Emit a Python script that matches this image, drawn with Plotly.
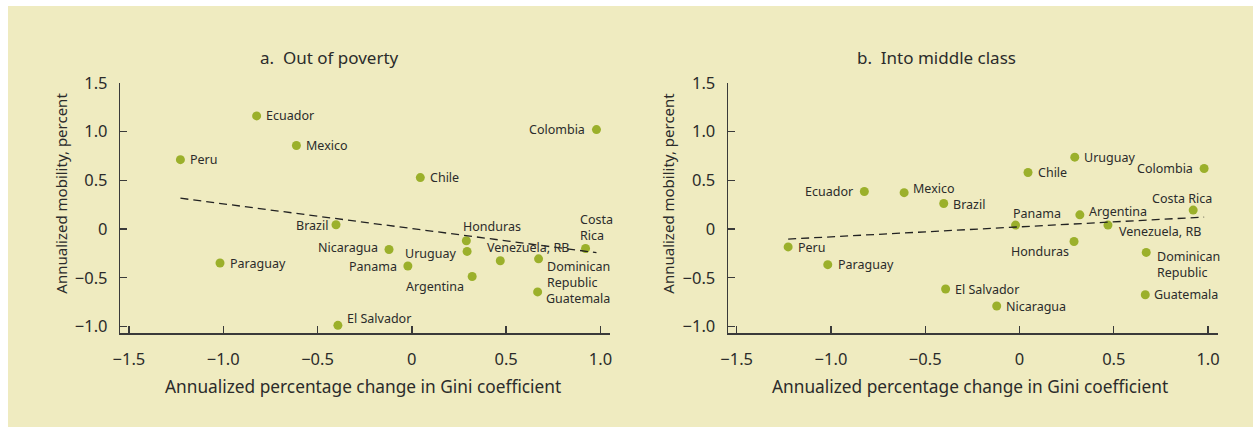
import numpy as np
import plotly.graph_objects as go

# The page body keeps an 8px margin, so the figure is 16px smaller than the window.
W, H = 1237, 411
OFF = 8

countries = ["Ecuador", "Mexico", "Peru", "Chile", "Colombia", "Brazil", "Nicaragua",
             "Paraguay", "Panama", "El Salvador", "Honduras", "Uruguay", "Venezuela, RB",
             "Argentina", "Dominican Republic", "Guatemala", "Costa Rica"]
gini_change = [-0.823, -0.612, -1.227, 0.045, 0.979, -0.402, -0.121,
               -1.017, -0.021, -0.392, 0.289, 0.293, 0.469,
               0.320, 0.672, 0.667, 0.921]
out_of_poverty = [1.16, 0.857, 0.711, 0.527, 1.02, 0.043, -0.21,
                  -0.349, -0.38, -0.988, -0.121, -0.23, -0.326,
                  -0.487, -0.306, -0.645, -0.20]
into_middle = [0.385, 0.373, -0.184, 0.58, 0.62, 0.261, -0.79,
               -0.366, 0.04, -0.616, -0.128, 0.737, 0.04,
               0.145, -0.24, -0.675, 0.194]

tick_vals_x = [-1.5, -1.0, -0.5, 0, 0.5, 1.0]
tick_text_x = ["\u22121.5", "\u22121.0", "\u22120.5", "0", "0.5", "1.0"]
tick_vals_y = [-1.0, -0.5, 0, 0.5, 1.0, 1.5]
tick_text_y = ["\u22121.0", "\u22120.5", "0", "0.5", "1.0", "1.5"]

panel_titles = ["a.  Out of poverty", "b.  Into middle class"]
x_title = "Annualized percentage change in Gini coefficient"
y_title = "Annualized mobility, percent"

# label placement: (xanchor, xshift, yshift)
place_a = {
    "Ecuador": ("left", 7, 0), "Mexico": ("left", 8, 0), "Peru": ("left", 8, 0),
    "Chile": ("left", 8, 0), "Colombia": ("right", -9, 0), "Brazil": ("right", -6, -1),
    "Nicaragua": ("right", -9, 2), "Paraguay": ("left", 8, 0), "Panama": ("right", -9, 0),
    "El Salvador": ("left", 7, 7), "Honduras": ("left", -5, 14), "Uruguay": ("right", -9, -2),
    "Venezuela, RB": ("left", -15, 13), "Argentina": ("right", -6, -10),
    "Dominican Republic": ("left", 6, -16), "Guatemala": ("left", 6, -7),
    "Costa Rica": ("left", -8, 21),
}
multi_a = {"Dominican Republic": "Dominican<br>Republic", "Costa Rica": "Costa<br>Rica"}
place_b = {
    "Ecuador": ("right", -9, 0), "Mexico": ("left", 7, 4), "Peru": ("left", 8, -1),
    "Chile": ("left", 8, 0), "Colombia": ("right", -9, 0), "Brazil": ("left", 7, -1),
    "Nicaragua": ("left", 7, 0), "Paraguay": ("left", 8, 0), "Panama": ("left", -5, 12),
    "El Salvador": ("left", 7, 0), "Honduras": ("right", -3, -10), "Uruguay": ("left", 7, 0),
    "Venezuela, RB": ("left", 9, -6), "Argentina": ("left", 7, 3),
    "Dominican Republic": ("left", 9, -12), "Guatemala": ("left", 7, 0),
    "Costa Rica": ("right", 21, 12),
}
multi_b = {"Dominican Republic": "Dominican<br>Republic"}

BG = "#EFEBC0"
DOT = "#9BB02B"
TXT = "#2b2b2b"
AX = "#3a3a3a"
FONT = "Noto Sans"

def px(x):
    return (x - OFF) / W

def py(y):
    return 1 - (y - OFF) / H

fig = go.Figure()

panels = [
    (out_of_poverty, "x", "y", place_a, multi_a),
    (into_middle, "x2", "y2", place_b, multi_b),
]
annotations = []
for vals, xa, ya, place, multi in panels:
    fig.add_trace(go.Scatter(x=gini_change, y=vals, mode="markers", xaxis=xa, yaxis=ya,
                             marker=dict(color=DOT, size=9), showlegend=False, hoverinfo="skip"))
    slope, icpt = np.polyfit(gini_change, vals, 1)
    xl = np.array([min(gini_change), max(gini_change)])
    fig.add_trace(go.Scatter(x=xl, y=slope * xl + icpt, mode="lines", xaxis=xa, yaxis=ya,
                             line=dict(color="#222222", width=1.3, dash="8px,5px"),
                             showlegend=False, hoverinfo="skip"))
    for c, gx, gy in zip(countries, gini_change, vals):
        anc, xs, ys = place[c]
        annotations.append(dict(x=gx, y=gy, xref=xa, yref=ya, text=multi.get(c, c),
                                showarrow=False, xanchor=anc, yanchor="middle", align="left",
                                xshift=xs, yshift=ys,
                                font=dict(family=FONT, size=12.5, color=TXT)))

for t, cx in zip(panel_titles, [324.5, 935.5]):
    annotations.append(dict(x=px(cx), y=py(47), xref="paper", yref="paper", text=t,
                            showarrow=False, xanchor="center", yanchor="middle",
                            font=dict(family=FONT, size=17, color=TXT)))
for cx in [358, 970]:
    annotations.append(dict(x=px(cx), y=py(389), xref="paper", yref="paper", text=x_title,
                            showarrow=False, xanchor="center", yanchor="middle",
                            font=dict(family=FONT, size=17.3, color=TXT)))
for cx in [53, 665]:
    annotations.append(dict(x=px(cx), y=py(188), xref="paper", yref="paper", text=y_title,
                            showarrow=False, xanchor="center", yanchor="middle", textangle=-90,
                            font=dict(family=FONT, size=15, color=TXT)))

xrange_ = [-1.545, 1.05]
yrange_ = [-1.07, 1.5]
ydom = [py(334), py(73.3)]
common_x = dict(range=xrange_, tickvals=tick_vals_x, ticktext=tick_text_x, showline=True,
                linecolor=AX, linewidth=1.6, ticks="inside", ticklen=7, tickwidth=1.4,
                tickcolor=AX, showgrid=False, zeroline=False, ticklabelstandoff=10,
                tickfont=dict(family=FONT, size=16.5, color=TXT))
common_y = dict(range=yrange_, tickvals=tick_vals_y, ticktext=tick_text_y, showline=True,
                linecolor=AX, linewidth=1.6, ticks="inside", ticklen=7, tickwidth=1.4,
                tickcolor=AX, showgrid=False, zeroline=False, ticklabelstandoff=8,
                tickfont=dict(family=FONT, size=16.5, color=TXT), domain=ydom)

fig.update_layout(
    width=W, height=H, margin=dict(l=0, r=0, t=0, b=0),
    paper_bgcolor=BG, plot_bgcolor=BG, hovermode=False,
    xaxis=dict(domain=[px(113.3), px(606.7)], anchor="y", **common_x),
    xaxis2=dict(domain=[px(726), px(1219.3)], anchor="y2", **common_x),
    yaxis=dict(anchor="x", **common_y),
    yaxis2=dict(anchor="x2", **common_y),
    annotations=annotations,
)

page_bg = ("document.documentElement.style.background="
           "'linear-gradient(to right, #ffffff 8px, rgba(0,0,0,0) 8px), "
           "linear-gradient(to bottom, #ffffff 6px, " + BG + " 6px)';")
fig.write_html("out.html", config={"displayModeBar": False, "staticPlot": True},
               post_script=page_bg)
